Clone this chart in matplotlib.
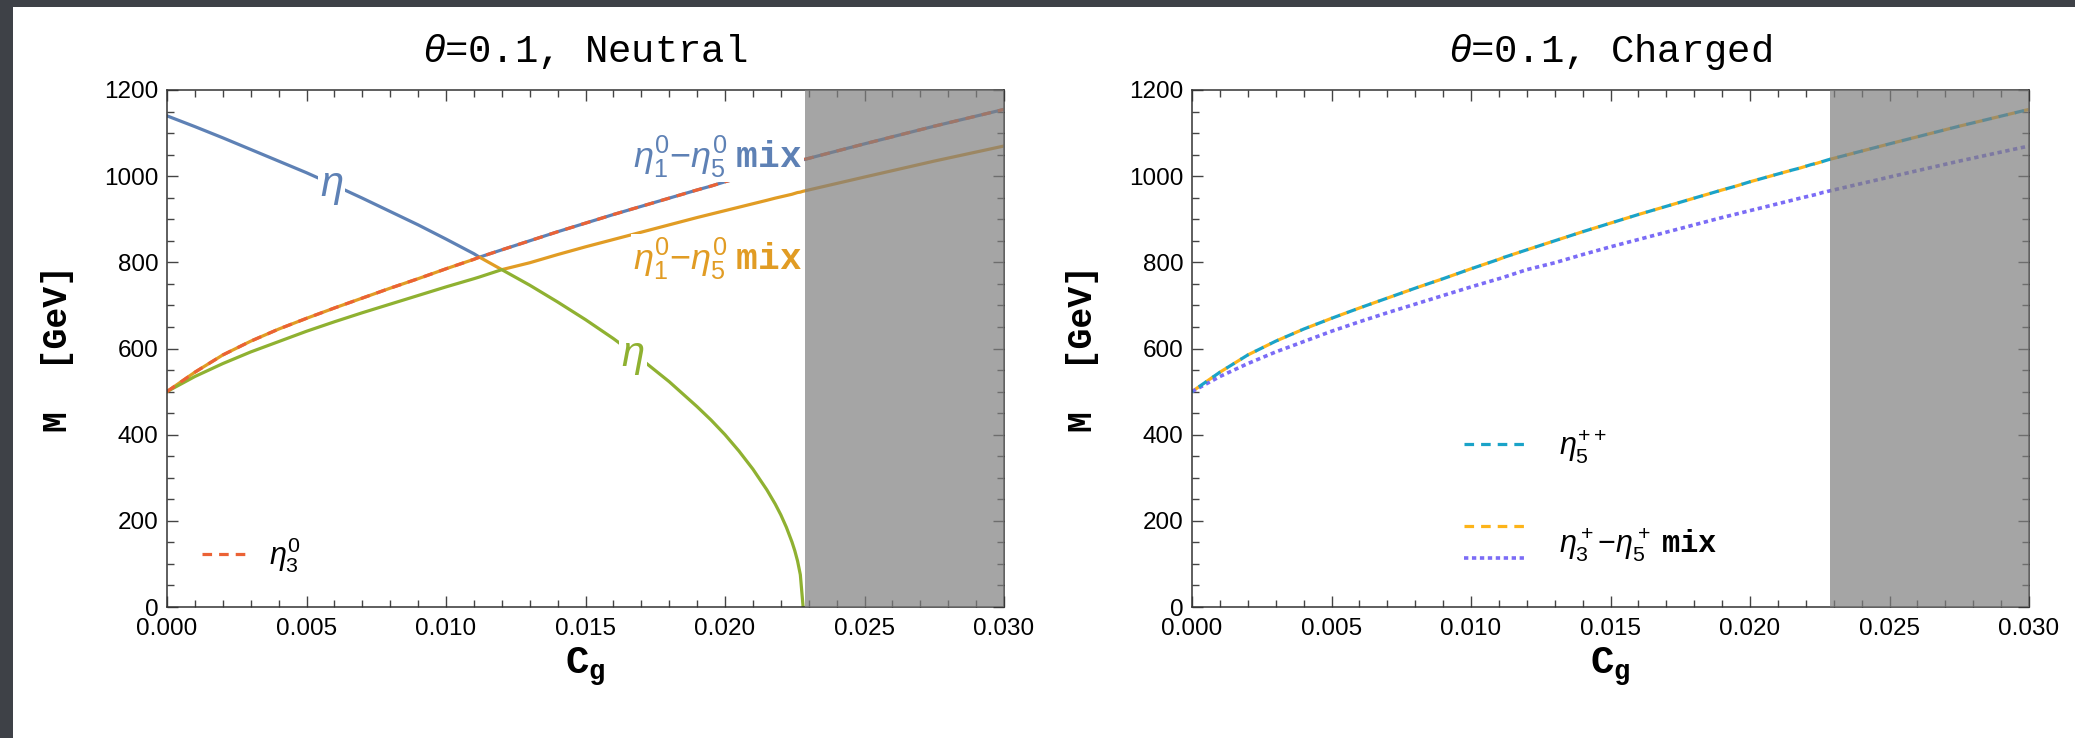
import numpy as np
import matplotlib
matplotlib.use('Agg')
import matplotlib.pyplot as plt
from matplotlib.patches import Rectangle
from matplotlib.lines import Line2D
from matplotlib.legend_handler import HandlerBase

plt.rcParams['font.family'] = ['Liberation Sans', 'DejaVu Sans']
plt.rcParams['mathtext.fontset'] = 'custom'
plt.rcParams['mathtext.rm'] = 'Liberation Sans'
plt.rcParams['mathtext.it'] = 'Liberation Sans:italic'
plt.rcParams['mathtext.bf'] = 'Liberation Mono:bold'

# C_g grid and mass branches (GeV)
cg = [0.0, 0.001, 0.002, 0.003, 0.004, 0.005, 0.006, 0.007, 0.008, 0.009,
      0.010, 0.011, 0.0112, 0.012, 0.013, 0.014, 0.015, 0.016, 0.017, 0.018,
      0.019, 0.0195, 0.020, 0.0205, 0.021, 0.0215, 0.0218, 0.022, 0.0222,
      0.0224, 0.0225, 0.0226, 0.0227, 0.0228, 0.025, 0.0275, 0.030]
m_upper = [500, 545, 585, 617, 645, 670, 694, 717, 740, 762,
           785, 807, 812, 829, 850, 871, 891, 911, 930, 949,
           968, 977, 987, 996, 1005, 1014, 1019, 1023, 1027,
           1030, 1032, 1034, 1036, 1038, 1075, 1116, 1155]
m_lower = [500, 535, 565, 592, 616, 640, 662, 683, 703, 723,
           743, 762, 766, 783, 799, 818, 836, 853, 870, 887,
           904, 912, 920, 928, 936, 944, 949, 952, 955,
           958, 960, 962, 963, 965, 998, 1035, 1070]
m_desc = [1140, 1115, 1089, 1062, 1035, 1008, 979, 949, 918, 887,
          854, 820, 812, 783, 747, 708, 667, 623, 575, 523,
          465, 434, 400, 362, 320, 272, 239, 214, 185,
          151, 131, 107, 75, 0, np.nan, np.nan, np.nan]
excluded_from = 0.02285

x_ticks = [0.0, 0.005, 0.010, 0.015, 0.020, 0.025, 0.030]
y_ticks = [0, 200, 400, 600, 800, 1000, 1200]

c_blue, c_orange, c_green, c_red = '#5E81B5', '#E19C24', '#8FB131', '#EB6235'
c_cyan, c_gold, c_purple = '#1AA3C8', '#FDB419', '#7B6CF6'


class StackedHandler(HandlerBase):
    # draws a tuple of lines one above the other in a single legend row
    def create_artists(self, legend, orig_handle, xdescent, ydescent,
                       width, height, fontsize, trans):
        yc = height / 2 - ydescent
        out = []
        for i, h in enumerate(orig_handle):
            y = yc + height * (0.75 - 1.5 * i)
            ln = Line2D([-xdescent, -xdescent + width], [y, y])
            ln.update_from(h)
            ln.set_transform(trans)
            out.append(ln)
        return out


def style_axes(ax, title):
    ax.set_xlim(0, 0.03)
    ax.set_ylim(0, 1200)
    ax.set_xticks(x_ticks)
    ax.set_xticklabels(['%.3f' % t for t in x_ticks])
    ax.set_yticks(y_ticks)
    ax.set_xticks(np.arange(0, 0.0301, 0.001), minor=True)
    ax.set_yticks(np.arange(0, 1201, 50), minor=True)
    ax.tick_params(which='both', direction='in', top=True, right=True,
                   color='#444444', labelsize=17.5, width=1)
    ax.tick_params(which='major', length=8)
    ax.tick_params(which='minor', length=5)
    ax.tick_params(axis='x', pad=8)
    ax.tick_params(axis='y', pad=6)
    for sp in ax.spines.values():
        sp.set_linewidth(1.1)
        sp.set_color('#333333')
    ax.set_title(r'$\theta$=0.1, ' + title, fontfamily='Liberation Mono',
                 fontsize=28, pad=20)
    ax.set_xlabel(r'$\mathbf{C_g}$', fontsize=28, labelpad=4)
    ax.set_ylabel('M  [GeV]', fontfamily='Liberation Mono', fontweight='bold',
                  fontsize=25, labelpad=22)
    ax.axvspan(excluded_from, 0.03, color='#7f7f7f', alpha=0.7, lw=0,
               zorder=3)


fig = plt.figure(figsize=(20.75, 7.38), dpi=100, facecolor='#3e4147')
fig.patches.append(Rectangle((13 / 2075, 0), 1, 1 - 7 / 738,
                             transform=fig.transFigure, facecolor='white',
                             edgecolor='none', zorder=-10))

x = np.array(cg)
up = np.array(m_upper, dtype=float)
lo = np.array(m_lower, dtype=float)
de = np.array(m_desc, dtype=float)
has = ~np.isnan(de)
de0 = np.where(has, de, 0.0)
top = np.where(has, np.maximum(up, de0), up)
bot = np.where(has, np.minimum(lo, de0), np.nan)
mid = np.where(has, up + lo + de0 - top - np.minimum(lo, de0), lo)

# ---- Neutral ----
ax1 = fig.add_axes([167 / 2075, 131 / 738, 837 / 2075, 517 / 738])
ax1.plot(x, top, color=c_blue, lw=2.3, zorder=2)
ax1.plot(x, mid, color=c_orange, lw=2.3, zorder=2)
ax1.plot(x, bot, color=c_green, lw=2.3, zorder=2)
h3, = ax1.plot(x, up, color=c_red, lw=2.3, dashes=(3, 2.2), zorder=2.5)
style_axes(ax1, 'Neutral')

box = dict(facecolor='white', edgecolor='none', pad=1.5)
ax1.text(0.0059, 975, r'$\eta$', color=c_blue, fontsize=30, ha='center',
         va='center', bbox=box, zorder=4)
ax1.text(0.0167, 580, r'$\eta$', color=c_green, fontsize=30, ha='center',
         va='center', bbox=box, zorder=4)
mix = r'$\eta^0_1{-}\eta^0_5\;\mathbf{mix}$'
ax1.text(0.02275, 1045, mix, color=c_blue, fontsize=26, ha='right',
         va='center', bbox=box, zorder=4)
ax1.text(0.02275, 808, mix, color=c_orange, fontsize=26, ha='right',
         va='center', bbox=box, zorder=4)
ax1.legend([h3], [r'$\eta^0_3$'], loc='center left',
           bbox_to_anchor=(0.042, 0.10), frameon=False, fontsize=22,
           handlelength=1.4, handletextpad=0.8, borderpad=0,
           borderaxespad=0)

# ---- Charged ----
ax2 = fig.add_axes([1192 / 2075, 131 / 738, 837 / 2075, 517 / 738])
hg, = ax2.plot(x, up, color=c_gold, lw=2.3, linestyle=(0, (3, 2.2)),
               zorder=2)
ax2.plot(x, up, color=c_cyan, lw=2.3, linestyle=(2.6, (3, 2.2)), zorder=2.2)
hp, = ax2.plot(x, lo, color=c_purple, lw=2.6, linestyle=(0, (1.2, 1.0)),
               zorder=2)
hc = Line2D([], [], color=c_cyan, lw=2.3, linestyle=(0, (3, 2.2)))
style_axes(ax2, 'Charged')
ax2.legend([hc, (hg, hp)],
           [r'$\eta^{++}_5$', r'$\eta^+_3{-}\eta^+_5\;\mathbf{mix}$'],
           handler_map={tuple: StackedHandler()}, loc='center left',
           bbox_to_anchor=(0.325, 0.215), frameon=False, fontsize=22,
           handlelength=2.0, handletextpad=1.1, borderpad=0,
           borderaxespad=0, labelspacing=2.0)

fig.savefig('out.png', dpi=100, facecolor=fig.get_facecolor())
